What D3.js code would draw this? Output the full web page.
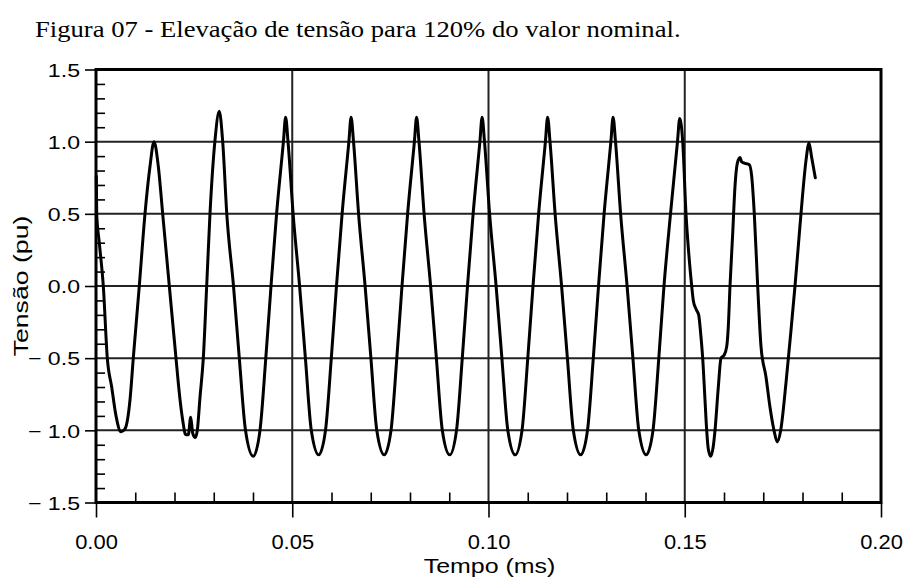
<!DOCTYPE html>
<html>
<head>
<meta charset="utf-8">
<script src="https://cdn.jsdelivr.net/npm/d3@7"></script>
<style>
  html, body { margin: 0; padding: 0; background: #fff; }
  svg { display: block; }
</style>
</head>
<body>
<svg id="chart" width="904" height="578"></svg>
<script>
const titleText = "Figura 07 - Elevação de tensão para 120% do valor nominal.";
const xTitle = "Tempo (ms)";
const yTitle = "Tensão (pu)";

const xTicks = [0, 0.05, 0.10, 0.15, 0.20];
const xTickLabels = ["0.00", "0.05", "0.10", "0.15", "0.20"];
const yTicks = [-1.5, -1.0, -0.5, 0.0, 0.5, 1.0, 1.5];
const yTickLabels = ["\u2212 1.5", "\u2212 1.0", "\u2212 0.5", "0.0", "0.5", "1.0", "1.5"];
const xGrid = [0.05, 0.10, 0.15];
const yGrid = [-1.0, -0.5, 0.0, 0.5, 1.0];
const xMinor = [0.01,0.02,0.03,0.04,0.06,0.07,0.08,0.09,0.11,0.12,0.13,0.14,0.16,0.17,0.18,0.19];
const yMinor = [-1.4,-1.3,-1.2,-1.1,-0.9,-0.8,-0.7,-0.6,-0.4,-0.3,-0.2,-0.1,0.1,0.2,0.3,0.4,0.6,0.7,0.8,0.9,1.1,1.2,1.3,1.4];

const time = [
0.00008,0.00018,0.00084,0.00186,0.00288,0.00400,0.00510,0.00637,0.00739,0.00866,0.00950,0.01103,0.01248,0.01376,0.01478,0.01587,0.01699,0.01868,0.02038,0.02122,0.02209,0.02285,0.02352,0.02413,0.02464,0.02530,0.02581,0.02650,0.02734,0.02820,0.02904,0.03032,0.03141,0.03228,0.03332,0.03503,0.03651,0.03809,
0.04005,0.04178,0.04326,0.04459,0.04601,0.04775,0.04831,0.04892,0.05022,0.05187,0.05335,0.05485,
0.05674,0.05847,0.05995,0.06127,0.06270,0.06443,0.06499,0.06561,0.06690,0.06856,0.07004,0.07154,
0.07343,0.07516,0.07664,0.07796,0.07939,0.08112,0.08168,0.08229,0.08359,0.08525,0.08672,0.08823,
0.09011,0.09185,0.09332,0.09465,0.09608,0.09781,0.09837,0.09898,0.10028,0.10194,0.10341,0.10492,
0.10680,0.10854,0.11001,0.11134,0.11277,0.11450,0.11506,0.11567,0.11697,0.11862,0.12010,0.12161,
0.12349,0.12522,0.12670,0.12803,0.12945,0.13118,0.13174,0.13236,0.13366,0.13531,0.13679,0.13829,
0.14018,0.14191,0.14339,0.14471,0.14637,0.14815,0.14871,
0.14948,0.15032,0.15116,0.15177,0.15218,0.15287,0.15355,0.15406,0.15457,0.15516,0.15559,0.15600,0.15661,0.15727,0.15771,0.15855,0.15924,0.16000,0.16069,0.16110,0.16153,0.16221,0.16280,0.16339,0.16408,0.16451,0.16535,0.16645,0.16706,0.16772,0.16858,0.16943,0.17070,0.17172,0.17274,0.17358,0.17445,0.17580,0.17699,0.17809,0.17918,0.18005,0.18089,0.18166,0.18234,0.18326
];

const voltage = [
0.76,0.50,0.30,0.00,-0.50,-0.70,-0.90,-1.01,-0.99,-0.79,-0.50,0.00,0.50,0.83,1.00,0.83,0.50,0.00,-0.50,-0.74,-0.93,-1.03,-1.03,-0.91,-1.02,-1.05,-1.00,-0.77,-0.50,0.00,0.50,1.01,1.21,1.00,0.50,0.00,-0.50,-1.00,
-1.18,-1.00,-0.50,0.00,0.50,1.00,1.17,1.00,0.50,0.00,-0.50,-1.00,
-1.17,-1.00,-0.50,0.00,0.50,1.00,1.17,1.00,0.50,0.00,-0.50,-1.00,
-1.17,-1.00,-0.50,0.00,0.50,1.00,1.17,1.00,0.50,0.00,-0.50,-1.00,
-1.17,-1.00,-0.50,0.00,0.50,1.00,1.17,1.00,0.50,0.00,-0.50,-1.00,
-1.17,-1.00,-0.50,0.00,0.50,1.00,1.17,1.00,0.50,0.00,-0.50,-1.00,
-1.17,-1.00,-0.50,0.00,0.50,1.00,1.17,1.00,0.50,0.00,-0.50,-1.00,
-1.17,-1.00,-0.50,0.00,0.50,1.00,1.16,
1.00,0.50,0.18,0.00,-0.10,-0.16,-0.20,-0.33,-0.50,-0.79,-1.00,-1.13,-1.18,-1.11,-1.00,-0.70,-0.50,-0.48,-0.42,-0.28,0.00,0.36,0.69,0.85,0.89,0.86,0.85,0.84,0.76,0.50,0.00,-0.42,-0.63,-0.84,-1.00,-1.08,-1.00,-0.67,-0.33,0.00,0.36,0.64,0.87,0.99,0.89,0.75
];

const svg = d3.select("#chart");
const plotL = 96, plotR = 881, plotT = 69.5, plotB = 502.5;
const x = d3.scaleLinear().domain([0, 0.2]).range([plotL, plotR]);
const y = d3.scaleLinear().domain([-1.5, 1.5]).range([plotB, plotT]);
const sans = "'Liberation Sans', Arial, sans-serif";

// Title
svg.append("text")
  .attr("transform", "translate(35,37) scale(1.11,1)")
  .attr("font-family", "'Liberation Serif', 'Times New Roman', serif")
  .attr("font-size", 24)
  .attr("fill", "#000")
  .text(titleText);

// Grid
svg.append("g").selectAll("line").data(yGrid).join("line")
  .attr("x1", plotL).attr("x2", plotR)
  .attr("y1", d => y(d)).attr("y2", d => y(d))
  .attr("stroke", "#222").attr("stroke-width", 2);
svg.append("g").selectAll("line").data(xGrid).join("line")
  .attr("y1", plotT).attr("y2", plotB)
  .attr("x1", d => x(d)).attr("x2", d => x(d))
  .attr("stroke", "#222").attr("stroke-width", 2);

// Minor ticks (inward)
const yMin = svg.append("g").attr("transform", `translate(${plotL},0)`)
  .call(d3.axisRight(y).tickValues(yMinor).tickSize(9).tickFormat(""));
const xMin = svg.append("g").attr("transform", `translate(0,${plotB})`)
  .call(d3.axisTop(x).tickValues(xMinor).tickSize(10).tickFormat(""));
[yMin, xMin].forEach(g => {
  g.select(".domain").remove();
  g.selectAll("line").attr("stroke", "#000").attr("stroke-width", 1.6);
});

// Major axes (outward ticks)
const ySx = 1.25, xSx = 1.07;
const yAx = svg.append("g").attr("transform", `translate(${plotL},0)`)
  .call(d3.axisLeft(y).tickValues(yTicks).tickFormat((d, i) => yTickLabels[i]).tickSize(11).tickPadding(3));
const xAx = svg.append("g").attr("transform", `translate(0,${plotB})`)
  .call(d3.axisBottom(x).tickValues(xTicks).tickFormat((d, i) => xTickLabels[i]).tickSize(15));
[yAx, xAx].forEach(g => {
  g.select(".domain").remove();
  g.selectAll("line").attr("stroke", "#000").attr("stroke-width", 1.6);
  g.selectAll("text").attr("font-family", sans).attr("fill", "#000");
});
yAx.selectAll("text")
  .attr("font-size", 18.5)
  .attr("x", -16 / ySx)
  .attr("dy", "0.36em")
  .attr("transform", `scale(${ySx},1)`);
xAx.selectAll("text")
  .attr("font-size", 20.5)
  .attr("y", 46.5)
  .attr("dy", "0")
  .attr("transform", `scale(${xSx},1)`);

// Frame
svg.append("rect")
  .attr("x", plotL).attr("y", plotT)
  .attr("width", plotR - plotL).attr("height", plotB - plotT)
  .attr("fill", "none").attr("stroke", "#000").attr("stroke-width", 3);

// Waveform
const pts = time.map((t, i) => [t, voltage[i]]);
svg.append("path")
  .datum(pts)
  .attr("fill", "none")
  .attr("stroke", "#000")
  .attr("stroke-width", 3)
  .attr("stroke-linejoin", "round")
  .attr("stroke-linecap", "round")
  .attr("d", d3.line().x(d => x(d[0])).y(d => y(d[1])).curve(d3.curveMonotoneX));

// Axis titles
svg.append("text")
  .attr("transform", `translate(${(plotL + plotR) / 2 + 1},573) scale(1.28,1)`)
  .attr("text-anchor", "middle")
  .attr("font-family", sans).attr("font-size", 19.5).attr("fill", "#000")
  .text(xTitle);
svg.append("text")
  .attr("transform", `translate(28,${y(0)}) rotate(-90) scale(1.3,1)`)
  .attr("text-anchor", "middle")
  .attr("font-family", sans).attr("font-size", 20.5).attr("fill", "#000")
  .text(yTitle);
</script>
</body>
</html>
